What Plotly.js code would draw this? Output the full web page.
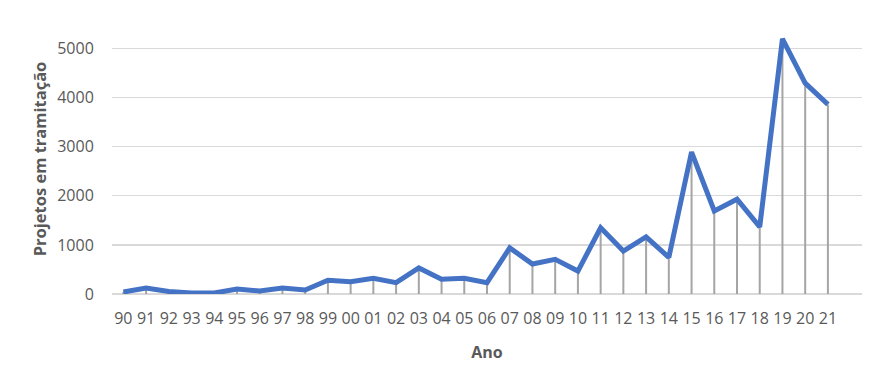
<!DOCTYPE html>
<html>
<head>
<meta charset="utf-8">
<script src="https://cdn.plot.ly/plotly-3.0.1.min.js"></script>
<style>html,body{margin:0;padding:0;background:#fff;}#chart{width:886px;height:387px;}</style>
</head>
<body>
<div id="chart"></div>
<script>
const years = ["90","91","92","93","94","95","96","97","98","99","00","01","02","03","04","05","06","07","08","09","10","11","12","13","14","15","16","17","18","19","20","21"];
const projetos = [40,120,50,20,20,100,60,120,80,280,250,320,230,530,300,320,230,940,610,705,467,1348,874,1165,745,2892,1693,1930,1368,5197,4295,3862];
const zeros = projetos.map(() => 0);

const fontFam = '"Open Sans", "Noto Sans", sans-serif';
const textColor = '#595959';

const dropTrace = {
  x: years, y: projetos, type: 'scatter', mode: 'markers',
  marker: {size: 1, opacity: 0},
  error_y: {type: 'data', symmetric: false, array: zeros, arrayminus: projetos,
            width: 0, thickness: 2, color: '#A5A5A5'},
  hoverinfo: 'skip', showlegend: false
};
const lineTrace = {
  x: years, y: projetos, type: 'scatter', mode: 'lines',
  line: {color: '#4472C4', width: 5, shape: 'linear'},
  showlegend: false
};

const layout = {
  width: 886, height: 387,
  margin: {l: 112, r: 24, t: 24, b: 93},
  paper_bgcolor: '#ffffff', plot_bgcolor: '#ffffff',
  font: {family: fontFam, color: textColor, size: 16},
  showlegend: false,
  xaxis: {
    type: 'category', range: [-0.5, 32.5],
    showgrid: false, zeroline: false, showline: false,
    ticks: 'outside', ticklen: 10, tickcolor: 'rgba(0,0,0,0)',
    tickfont: {family: fontFam, size: 16, color: textColor},
    title: {text: 'Ano', font: {family: fontFam, size: 16, color: textColor, weight: 'bold'}, standoff: 18}
  },
  yaxis: {
    range: [0, 5500], dtick: 1000, tick0: 0,
    showgrid: true, gridcolor: '#D9D9D9', gridwidth: 1.3,
    zeroline: true, zerolinecolor: '#D9D9D9', zerolinewidth: 1.3,
    showline: false, ticks: 'outside', ticklen: 14, tickcolor: 'rgba(0,0,0,0)',
    tickfont: {family: fontFam, size: 16, color: textColor},
    title: {text: 'Projetos em tramitação', font: {family: fontFam, size: 16.5, color: textColor, weight: 'bold'}, standoff: 6}
  }
};

Plotly.newPlot('chart', [dropTrace, lineTrace], layout, {displayModeBar: false, staticPlot: true});
</script>
</body>
</html>
